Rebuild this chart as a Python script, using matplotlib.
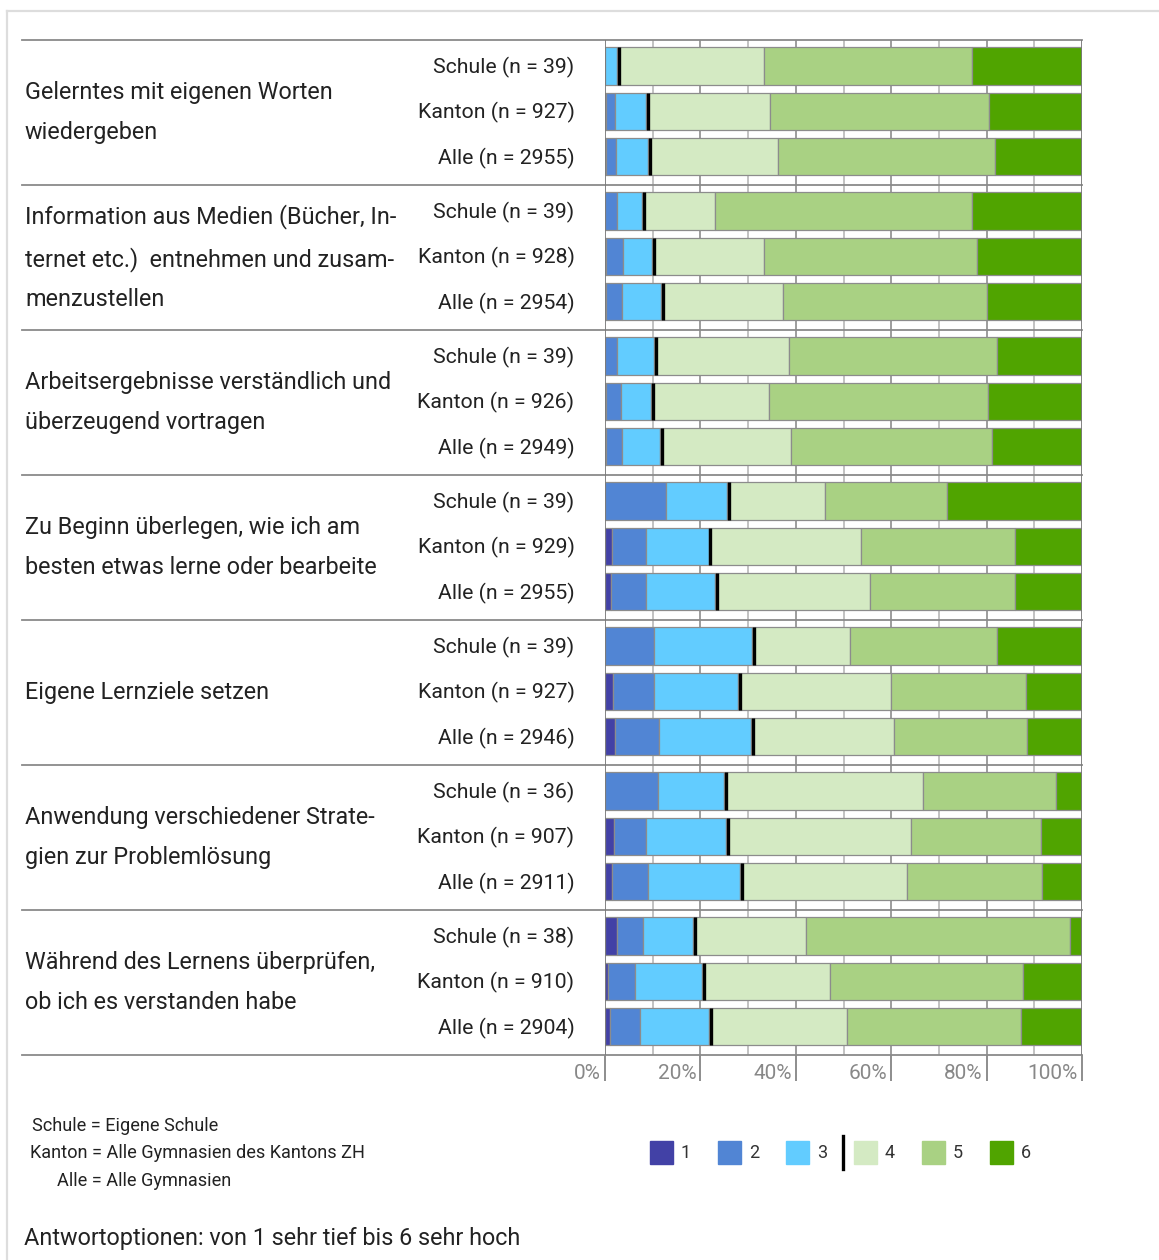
import matplotlib.pyplot as plt
import matplotlib.transforms as mtransforms
from matplotlib.lines import Line2D
from matplotlib.patches import Rectangle
import numpy as np

plt.rcParams['font.family'] = ['Roboto', 'DejaVu Sans']

items = ['Gelerntes mit eigenen Worten\nwiedergeben',
         'Information aus Medien (Bücher, In-\nternet etc.)  entnehmen und zusam-\nmenzustellen',
         'Arbeitsergebnisse verständlich und\nüberzeugend vortragen',
         'Zu Beginn überlegen, wie ich am\nbesten etwas lerne oder bearbeite',
         'Eigene Lernziele setzen',
         'Anwendung verschiedener Strate-\ngien zur Problemlösung',
         'Während des Lernens überprüfen,\nob ich es verstanden habe']

n_schule = [39, 39, 39, 39, 39, 36, 38]
n_kanton = [927, 928, 926, 929, 927, 907, 910]
n_alle = [2955, 2954, 2949, 2955, 2946, 2911, 2904]

# percentages for answer options 1..6
schule = [[0, 0, 2.6, 30.8, 43.6, 23.0],
          [0, 2.6, 5.1, 15.4, 53.8, 23.1],
          [0, 2.6, 7.7, 28.2, 43.6, 17.9],
          [0, 12.8, 12.8, 20.5, 25.6, 28.3],
          [0, 10.3, 20.5, 20.5, 30.8, 17.9],
          [0, 11.1, 13.9, 41.7, 27.8, 5.5],
          [2.6, 5.3, 10.5, 23.7, 55.3, 2.6]]
kanton = [[0.3, 1.8, 6.6, 25.8, 46.1, 19.4],
          [0.3, 3.5, 6.0, 23.6, 44.6, 22.0],
          [0.2, 3.2, 6.3, 24.6, 46.0, 19.7],
          [1.5, 7.0, 13.2, 31.9, 32.3, 14.1],
          [1.7, 8.6, 17.5, 32.2, 28.2, 11.8],
          [1.9, 6.7, 16.7, 38.8, 27.2, 8.7],
          [0.6, 5.6, 14.1, 26.9, 40.4, 12.4]]
alle = [[0.3, 2.1, 6.6, 27.2, 45.6, 18.2],
        [0.2, 3.4, 8.1, 25.6, 42.8, 19.9],
        [0.2, 3.4, 8.0, 27.4, 42.2, 18.8],
        [1.3, 7.2, 14.6, 32.4, 30.4, 14.1],
        [2.2, 9.2, 19.3, 29.9, 27.8, 11.6],
        [1.5, 7.6, 19.2, 35.1, 28.3, 8.3],
        [1.0, 6.3, 14.5, 29.0, 36.5, 12.7]]

options = ['1', '2', '3', '4', '5', '6']
colors = ['#4241a6', '#5185d4', '#62ccff', '#d4eac3', '#a9d183', '#50a400']

W, H = 1159, 1260
fig = plt.figure(figsize=(W / 100, H / 100), dpi=100)
ax = fig.add_axes([605 / W, 1 - 1055 / H, 477 / W, 1015 / H])

GH = 3.2      # group height in bar units
BH = 0.83     # bar height
TOP = 0.574   # first bar centre from group top
ngroups = len(items)

ax.set_xlim(0, 100)
ax.set_ylim(ngroups * GH, 0)

# vertical grid
for v in range(10, 100, 10):
    c = '#8c8c8c' if v % 20 == 0 else '#b8b8b8'
    ax.axvline(v, color=c, lw=1.2, zorder=0)

txt = '#222222'
for g in range(ngroups):
    rows = [('Schule', n_schule[g], schule[g]),
            ('Kanton', n_kanton[g], kanton[g]),
            ('Alle', n_alle[g], alle[g])]
    for b, (name, n, vals) in enumerate(rows):
        y = g * GH + TOP + b
        left = 0
        for k, v in enumerate(vals):
            if v > 0:
                ax.barh(y, v, left=left, height=BH, color=colors[k],
                        edgecolor='#8c8c8c', linewidth=0.9, zorder=2)
            left += v
            if k == 2:
                split = left
        ax.plot([split + 0.4, split + 0.4], [y - BH / 2, y + BH / 2],
                color='black', lw=2.4, zorder=3, solid_capstyle='butt')
        ax.annotate(f'{name} (n = {n})', xy=(0, y), xycoords='data',
                    xytext=(-22, -1), textcoords='offset points',
                    ha='right', va='center', fontsize=15.3, color=txt)
    ax.text(-580 / 4.77, g * GH + GH / 2, items[g], ha='left', va='center',
            fontsize=16.8, color=txt, linespacing=1.9, clip_on=False)

# group separators across label area
trans = mtransforms.blended_transform_factory(fig.transFigure, ax.transData)
for g in range(ngroups + 1):
    ax.add_line(Line2D([22 / W, 1082 / W], [g * GH, g * GH], transform=trans,
                       color='#8a8a8a', lw=1.3, clip_on=False, zorder=4))

for s in ax.spines.values():
    s.set_visible(False)
ax.set_yticks([])
ax.set_xticks([0, 20, 40, 60, 80, 100])
ax.set_xticklabels([])
ax.tick_params(axis='x', length=19, width=1.2, color='#7a7a7a', direction='out')
for v in [0, 100]:
    ax.axvline(v, color='#7a7a7a', lw=1.3, zorder=5)
for v in [0, 20, 40, 60, 80, 100]:
    ax.annotate(f'{v}%', xy=(v, 0), xycoords=('data', 'axes fraction'),
                xytext=(-3, -13.5), textcoords='offset points',
                ha='right', va='center', fontsize=15, color='#888888')

# outer frame
fig.add_artist(Line2D([7 / W, 1], [1 - 10.5 / H, 1 - 10.5 / H], color='#dddddd', lw=1.6))
fig.add_artist(Line2D([7 / W, 7 / W], [0, 1 - 10.5 / H], color='#dddddd', lw=1.6))

# notes
fig.text(32 / W, 1 - 1126 / H, 'Schule = Eigene Schule', fontsize=13.1, color=txt, va='center')
fig.text(30 / W, 1 - 1153 / H, 'Kanton = Alle Gymnasien des Kantons ZH', fontsize=13.1, color=txt, va='center')
fig.text(57 / W, 1 - 1181 / H, 'Alle = Alle Gymnasien', fontsize=13.1, color=txt, va='center')
fig.text(24 / W, 1 - 1238 / H, 'Antwortoptionen: von 1 sehr tief bis 6 sehr hoch',
         fontsize=16.8, color=txt, va='center')

# legend
for k, lab in enumerate(options):
    x0 = (650 + 68 * k) / W
    fig.add_artist(Rectangle((x0, 1 - 1164 / H), 23 / W, 23 / H,
                             transform=fig.transFigure, color=colors[k]))
    fig.text(x0 + 31 / W, 1 - 1153 / H, lab, fontsize=13, color='#333333', va='center')
fig.add_artist(Line2D([842.5 / W, 842.5 / W], [1 - 1169 / H, 1 - 1136 / H],
                      color='black', lw=2.4))

fig.savefig('out.png', dpi=100, facecolor='white')
